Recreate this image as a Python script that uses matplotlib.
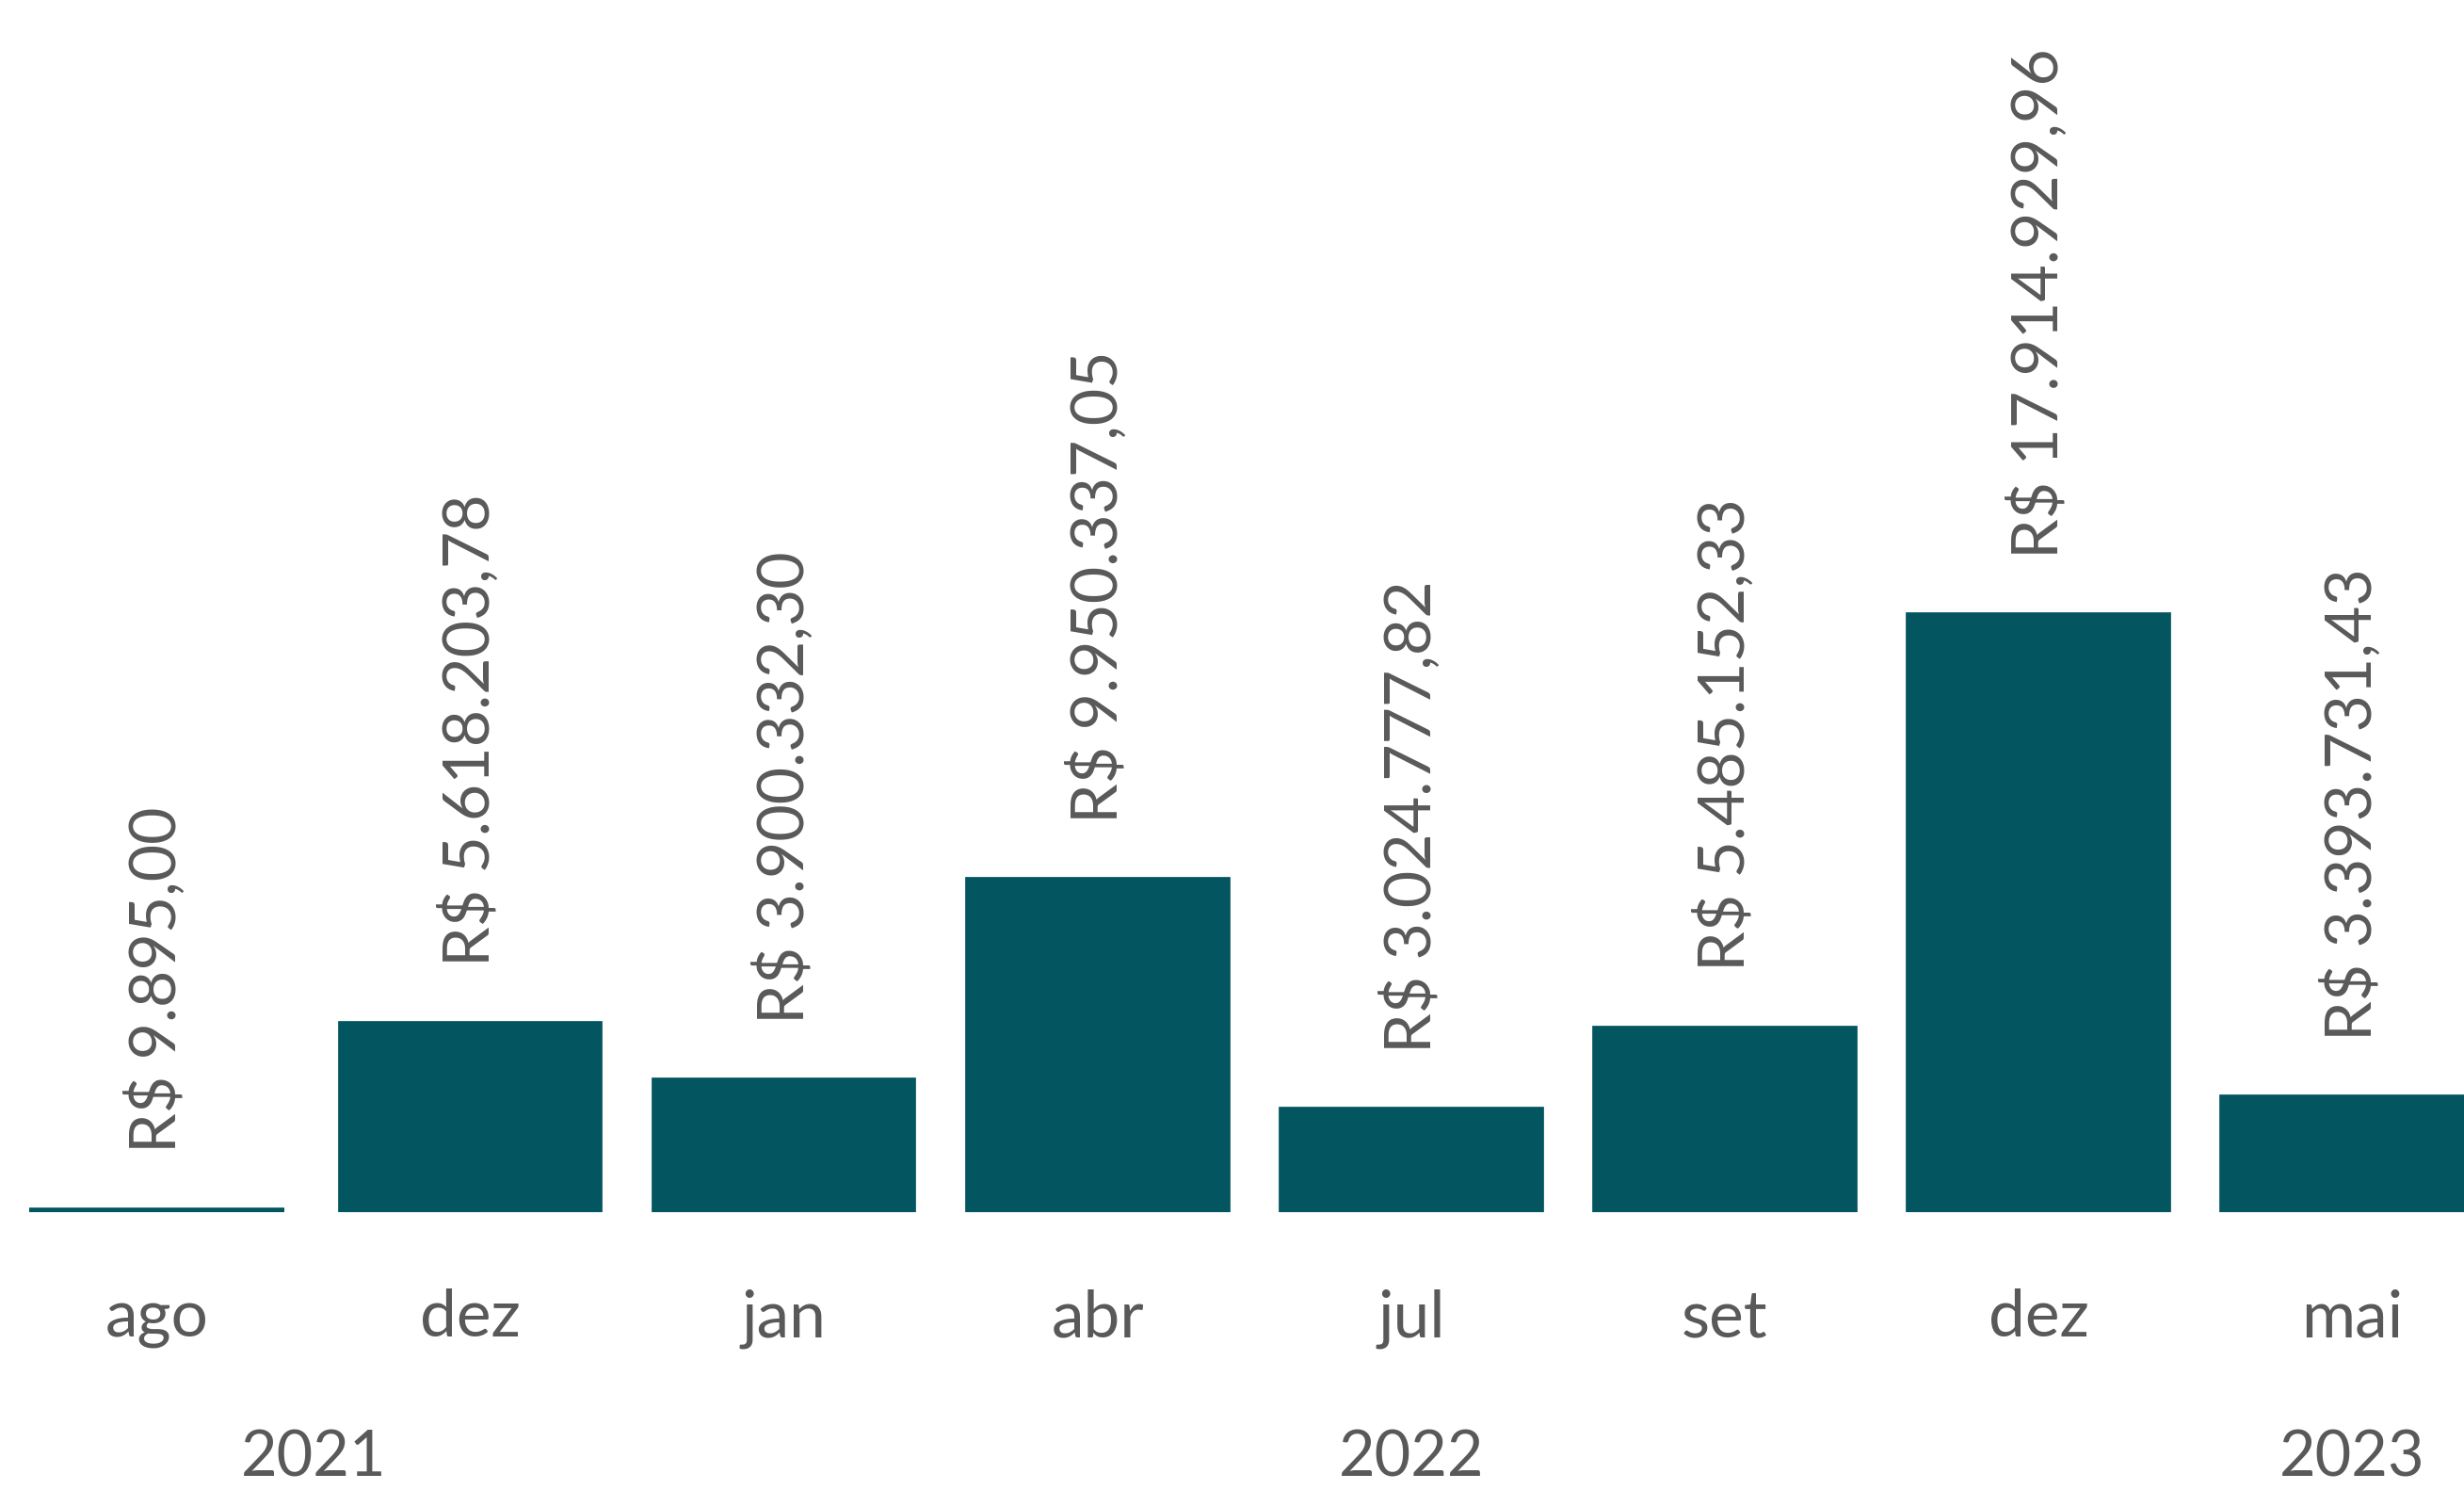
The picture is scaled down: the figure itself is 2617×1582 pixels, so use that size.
import matplotlib
matplotlib.use("Agg")
import matplotlib.pyplot as plt

# monthly values (R$), grouped by year
months = ["ago", "dez", "jan", "abr", "jul", "set", "dez", "mai"]
values = [9895.00, 5618203.78, 3900332.30, 9950337.05,
          3024777.82, 5485152.33, 17914929.96, 3393731.43]
labels = ["R$ 9.895,00", "R$ 5.618.203,78", "R$ 3.900.332,30", "R$ 9.950.337,05",
          "R$ 3.024.777,82", "R$ 5.485.152,33", "R$ 17.914.929,96", "R$ 3.393.731,43"]
years = ["2021", "2022", "2023"]
year_groups = [[0, 1], [2, 3, 4, 5, 6], [7]]

bar_color = "#03565F"
text_color = "#595959"
plt.rcParams['font.family'] = ['Lato', 'DejaVu Sans']

fig = plt.figure(figsize=(26.17, 15.82), dpi=100)
ax = fig.add_axes([0, (1582 - 1287) / 1582, 1, 1287 / 1582])

x = list(range(len(months)))
# edge line keeps the tiny first bar visible
ax.bar(x, values, width=0.815, color=bar_color, edgecolor=bar_color, linewidth=7)

# value labels, rotated above each bar
for xi, v, lab in zip(x, values, labels):
    ax.annotate(lab, (xi, v), xytext=(0, 45), textcoords="offset points",
                rotation=90, ha="center", va="bottom",
                fontsize=49, color=text_color)

ax.set_xlim(-0.5, 7.357)
ax.set_ylim(0, 36.5e6)

# two-level category axis: months then years
tr = ax.get_xaxis_transform()
for xi, m in zip(x, months):
    ax.text(xi, -0.1026, m, transform=tr, ha="center", va="baseline",
            fontsize=50, color=text_color)
for yr, grp in zip(years, year_groups):
    ax.text(sum(grp) / len(grp), -0.218, yr, transform=tr, ha="center",
            va="baseline", fontsize=48, color=text_color)

ax.axis("off")
fig.savefig("out.png", dpi=100)
plt.close(fig)
